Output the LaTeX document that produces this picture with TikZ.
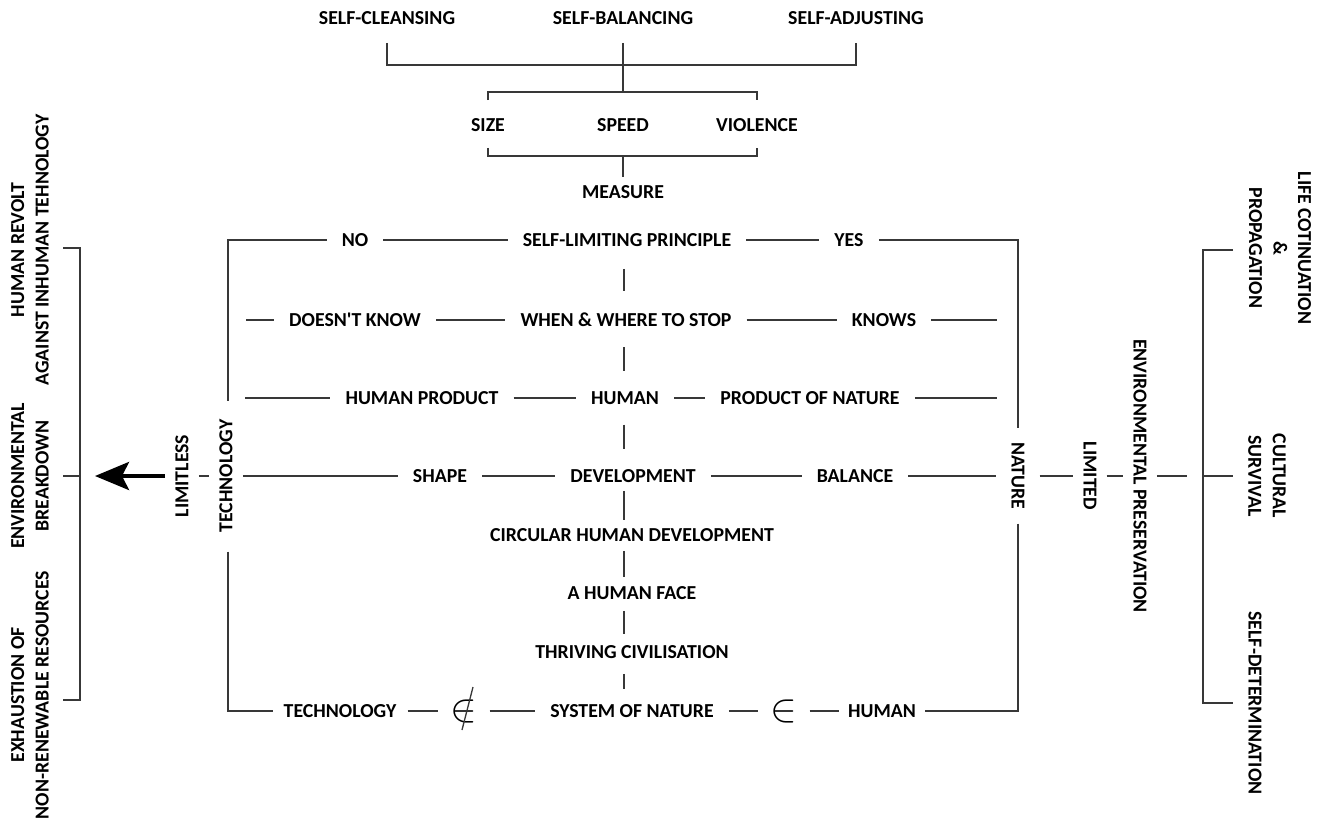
\RequirePackage{fix-cm}
\documentclass[tikz,border=0pt]{standalone}
\usepackage{fontspec}
\setmainfont{Carlito}
\usetikzlibrary{arrows.meta}

\begin{document}
\begin{tikzpicture}[
  x=1pt,y=-1pt,
  font=\bfseries\fontsize{19.8}{24.5}\selectfont,
  lbl/.style={inner xsep=15pt,inner ysep=4pt,align=center},
  uplbl/.style={lbl,rotate=90,inner xsep=19pt,inner ysep=10pt},
  dnlbl/.style={lbl,rotate=-90,inner xsep=14pt,inner ysep=10pt},
  sym/.style={inner xsep=12pt,inner ysep=0pt,font=\fontsize{40}{40}\selectfont},
  link/.style={line width=1.8pt,draw=black!78},
  spoke/.style={link,shorten <=#1,shorten >=#1},
  spoke/.default=0pt
]
  \useasboundingbox (0,0) rectangle (1323,825);

  % three self-properties and the measure bracket
  \node[lbl] (scl) at (387,18) {SELF-CLEANSING};
  \node[lbl] (sbal) at (623,18) {SELF-BALANCING};
  \node[lbl] (sadj) at (856,18) {SELF-ADJUSTING};
  \node[lbl] (size) at (488,125) {SIZE};
  \node[lbl] (speed) at (623,125) {SPEED};
  \node[lbl] (viol) at (757,125) {VIOLENCE};
  \node[lbl] (meas) at (623,192) {MEASURE};
  \draw[link] ([yshift=-14pt]scl.south) |- ([yshift=-36pt]sbal.south)
    -| ([yshift=-14pt]sadj.south);
  \draw[link] ([yshift=-14pt]sbal.south) -- ([yshift=22pt]speed.north);
  \draw[link] ([yshift=14pt]size.north) -- ++(0,-8) -| ([yshift=14pt]viol.north);
  \draw[link] ([yshift=-12pt]size.south) -- ++(0,8) -| ([yshift=-12pt]viol.south);
  \draw[link] ([yshift=-20pt]speed.south) -- ([yshift=4pt]meas.north);

  \coordinate (tl) at (228,240); \coordinate (tr) at (1018,240);
  \coordinate (bl) at (228,711); \coordinate (br) at (1018,711);
  \coordinate (spine) at (624,0);

  \node[lbl] (no) at (355,240) {NO};
  \node[lbl] (slp) at (627,240) {SELF-LIMITING PRINCIPLE};
  \node[lbl] (yes) at (849,240) {YES};

  \node[lbl] (dk) at (355,320) {DOESN\textquotesingle T KNOW};
  \node[lbl] (wws) at (626,320) {WHEN \& WHERE TO STOP};
  \node[lbl] (knows) at (884,320) {KNOWS};

  \node[lbl] (hprod) at (422,398) {HUMAN PRODUCT};
  \node[lbl] (human) at (625,398) {HUMAN};
  \node[lbl] (pnat) at (810,398) {PRODUCT OF NATURE};

  \node[uplbl] (limless) at (182,476) {LIMITLESS};
  \node[uplbl] (tech) at (226,476) {TECHNOLOGY};
  \node[lbl] (shape) at (440,476) {SHAPE};
  \node[lbl] (devel) at (633,476) {DEVELOPMENT};
  \node[lbl] (bal) at (855,476) {BALANCE};
  \node[dnlbl,inner ysep=15pt] (nature) at (1018,476) {NATURE};
  \node[dnlbl] (limited) at (1090,476) {LIMITED};
  \node[dnlbl] (envpres) at (1140,476) {ENVIRONMENTAL PRESERVATION};

  \node[lbl] (circ) at (632,535) {CIRCULAR HUMAN DEVELOPMENT};
  \node[lbl] (face) at (632,593) {A HUMAN FACE};
  \node[lbl] (thriv) at (632,652) {THRIVING CIVILISATION};

  \node[lbl,inner xsep=11pt] (techb) at (340,711) {TECHNOLOGY};
  \node[sym] (notin) at (464,711) {$\in$};
  \node[lbl] (sysnat) at (632,711) {SYSTEM OF NATURE};
  \node[sym] (isin) at (784,711) {$\in$};
  \node[lbl,inner xsep=9pt] (humb) at (882,711) {HUMAN};

  % frame
  \draw[link] (no) -- (tl) -- (tl |- tech.east);
  \draw[link] (tl |- tech.west) -- (bl) -- (techb);
  \draw[link] (yes) -- (tr) -- (tr |- nature.west);
  \draw[link] (br |- nature.east) -- (br) -- (humb);
  \draw[link] (no) -- (slp) -- (yes);

  \coordinate (r2a) at (246,320); \coordinate (r2b) at (997,320);
  \coordinate (r3a) at (245,398); \coordinate (r3b) at (997,398);
  \coordinate (envend) at (1187,476);
  \draw[link] (r2a) -- (dk) -- (wws) -- (knows) -- (r2b);
  \draw[link] (r3a) -- (hprod) -- (human) -- (pnat) -- (r3b);
  \draw[link] (limless) -- (tech) -- (shape) -- (devel) -- (bal) -- (nature)
    -- (limited) -- (envpres) -- (envend);
  \draw[link] (techb) -- (notin) -- (sysnat) -- (isin) -- (humb);
  \draw[link,line width=1.3pt] ([shift={(9,-24)}]notin.center)
    -- ([shift={(-2,19)}]notin.center);

  \foreach \a/\b/\s in {slp/wws/18pt,wws/human/16pt,human/devel/16pt,
      devel/circ/4pt,circ/face/5pt,face/thriv/7pt,thriv/sysnat/11pt}
    \draw[spoke=\s] (\a.south -| spine) -- (\b.north -| spine);

  % left side
  \coordinate (arrowtip) at (95,476);
  \draw[link,draw=black,line width=4pt,
        -{Stealth[length=34pt,width=28pt,inset=7pt]}] (limless) -- (arrowtip);
  \coordinate (lbt) at (80,248); \coordinate (lbb) at (80,700);
  \draw[link] (lbt) ++(-17,0) -- (lbt) -- (lbb) -- ++(-17,0);
  \draw[link] (lbt |- arrowtip) -- ++(-17,0);
  \node[lbl,rotate=90,inner sep=0pt] (revolt) at (30,250)
    {HUMAN REVOLT\\AGAINST INHUMAN TEHNOLOGY};
  \node[lbl,rotate=90,inner sep=0pt] (breakd) at (30,476)
    {ENVIRONMENTAL\\BREAKDOWN};
  \node[lbl,rotate=90,inner sep=0pt] (exhaust) at (30,695)
    {EXHAUSTION OF\\NON-RENEWABLE RESOURCES};

  % right side
  \coordinate (rbt) at (1203,250); \coordinate (rbb) at (1203,703);
  \draw[link] (rbt) ++(30,0) -- (rbt) -- (rbb) -- ++(30,0);
  \draw[link] (rbt |- arrowtip) -- ++(30,0);
  \node[lbl,rotate=-90,inner sep=0pt] (life) at (1280,248)
    {LIFE COTINUATION\\\&\\PROPAGATION};
  \node[lbl,rotate=-90,inner sep=0pt] (cult) at (1267,476)
    {CULTURAL\\SURVIVAL};
  \node[lbl,rotate=-90,inner sep=0pt] (selfdet) at (1255,703)
    {SELF-DETERMINATION};
\end{tikzpicture}
\end{document}
